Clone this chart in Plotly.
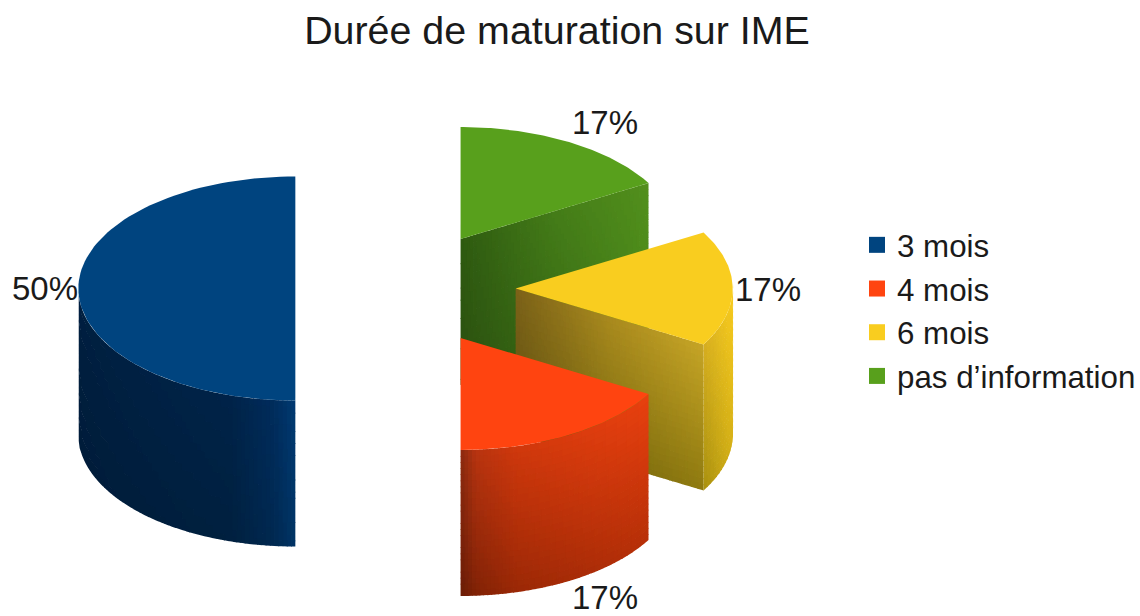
import math
import plotly.graph_objects as go

# ---------- data ----------
TITLE = "Durée de maturation sur IME"
categories = ["3 mois", "4 mois", "6 mois", "pas d’information"]
values = [3, 1, 1, 1]

# ---------- styles / layout constants ----------
W, H = 1140, 616
CX, CY = 405.5, 288.5
RX, RY = 217, 112
DEPTH = 146
EXPLODE = 0.51
top_colors = ["#00447f", "#ff4410", "#f9cd1f", "#58a01c"]
draw_order = [0, 3, 2, 1]
label_pos = [(45, 288), (605, 597), (768, 289), (605, 122)]

# gradient definitions: list of (fraction across face, top colour, bottom colour)
cut_shade = {
    2: [(0, "#7c6218", "#5f5010"), (0.5, "#a98a1e", "#7a6a0e"), (1, "#c6a526", "#8f7a10")],
    3: [(0, "#2e5a10", "#2b5010"), (0.5, "#447c18", "#386a14"), (1, "#528f1c", "#4a8a1a")],
}
wall_shade = {
    0: [(0, "#001f40", "#001c3a"), (0.7, "#002348", "#00203f"), (0.9, "#002c5c", "#002850"), (1, "#003a72", "#003465")],
    1: [(0, "#8a2a10", "#6a1c06"), (0.08, "#b83410", "#802206"), (0.3, "#d0380c", "#9a2806"), (1, "#e8400f", "#b83008")],
    2: [(0, "#d4ad20", "#a8900f"), (1, "#f7cb1e", "#d8b218")],
}
OVERLAP = 0.8
QUANT = 2


def hex2rgb(c):
    return [int(c[i:i + 2], 16) for i in (1, 3, 5)]


def mix(a, b, t):
    return [a[i] + (b[i] - a[i]) * t for i in range(3)]


def shade(stops, fx, fy):
    for (t0, a0, b0), (t1, a1, b1) in zip(stops, stops[1:]):
        if fx <= t1:
            break
    f = 0 if t1 == t0 else min(max((fx - t0) / (t1 - t0), 0), 1)
    top = mix(hex2rgb(a0), hex2rgb(a1), f)
    bot = mix(hex2rgb(b0), hex2rgb(b1), f)
    r, g, b = (round(c / QUANT) * QUANT for c in mix(top, bot, fy))
    return f"rgb({r},{g},{b})"


def poly(fig, xs, ys, color):
    fig.add_trace(go.Scatter(x=xs, y=ys, mode="lines", fill="toself", fillcolor=color,
                             line=dict(width=0), showlegend=False, hoverinfo="skip"))


def closed(pts):
    return [p[0] for p in pts] + [pts[0][0]], [p[1] for p in pts] + [pts[0][1]]


def extrude(fig, edge, stops, rows=24):
    """Draw a vertical face below an edge, shaded across x and depth; cells of one colour share a trace."""
    xs = [p[0] for p in edge]
    x0, x1 = min(xs), max(xs)
    segs = list(zip(edge, edge[1:]))
    groups = {}
    for j in range(rows):
        d0, d1 = DEPTH * j / rows, DEPTH * (j + 1) / rows
        ov = OVERLAP if j < rows - 1 else 0
        for k, ((ax, ay), (bx, by)) in enumerate(segs):
            fx = ((ax + bx) / 2 - x0) / (x1 - x0)
            xo = OVERLAP if k < len(segs) - 1 else 0
            slope = (by - ay) / (bx - ax)
            cx, cy = closed([(ax, ay + d0), (bx + xo, by + xo * slope + d0),
                             (bx + xo, by + xo * slope + d1 + ov), (ax, ay + d1 + ov)])
            g = groups.setdefault(shade(stops, fx, (j + 0.5) / rows), ([], []))
            g[0].extend(cx + [None])
            g[1].extend(cy + [None])
    for color, (gx, gy) in groups.items():
        poly(fig, gx, gy, color)


total = sum(values)
slices = []
cum = 0
for v in values:
    # slices run anticlockwise from the top; th is measured clockwise from the top
    th1 = 360 - cum / total * 360
    th0 = 360 - (cum + v) / total * 360
    cum += v
    mid = math.radians((th0 + th1) / 2)
    slices.append(dict(th0=th0, th1=th1,
                       ax=CX + EXPLODE * 216 * math.sin(mid),
                       ay=CY - EXPLODE * RY * math.cos(mid)))


def rim(s, deg):
    r = math.radians(deg)
    return s["ax"] + RX * math.sin(r), s["ay"] - RY * math.cos(r)


fig = go.Figure()
for i in draw_order:
    s = slices[i]
    # cut face on the clockwise side
    if i in cut_shade:
        end = rim(s, s["th1"])
        n = 60
        edge = [(s["ax"] + (end[0] - s["ax"]) * k / n, s["ay"] + (end[1] - s["ay"]) * k / n)
                for k in range(n + 1)]
        extrude(fig, edge, cut_shade[i])
    # outer wall: the front-facing part of the arc
    a0, a1 = max(s["th0"], 90), min(s["th1"], 270)
    if i in wall_shade and a1 > a0:
        n = {0: 80, 1: 60, 2: 16}[i]
        edge = [rim(s, a0 + (a1 - a0) * k / n) for k in range(n + 1)]
        edge.sort(key=lambda p: p[0])
        extrude(fig, edge, wall_shade[i])
    # top face
    n = 90
    arc = [rim(s, s["th0"] + (s["th1"] - s["th0"]) * k / n) for k in range(n + 1)]
    tx, ty = closed([(s["ax"], s["ay"])] + arc)
    poly(fig, tx, ty, top_colors[i])

# legend entries
for name, col in zip(categories, top_colors):
    fig.add_trace(go.Scatter(x=[None], y=[None], mode="markers", name=name, legendgroup=name,
                             marker=dict(symbol="square", size=19, color=col), hoverinfo="skip"))

# percentage labels
for v, (lx, ly) in zip(values, label_pos):
    fig.add_annotation(x=lx, y=ly, text=f"{round(v / total * 100)}%", showarrow=False,
                       font=dict(size=33, color="#1a1a1a"))

fig.update_layout(
    width=W, height=H,
    margin=dict(l=0, r=0, t=0, b=0, autoexpand=False),
    paper_bgcolor="white", plot_bgcolor="white",
    font=dict(family="Liberation Sans", color="#1a1a1a"),
    title=dict(text=TITLE, x=557 / W, xanchor="center", y=1 - 30 / H, yanchor="middle",
               font=dict(size=39.4, family="Liberation Sans", color="#1a1a1a")),
    xaxis=dict(range=[0, W], visible=False, fixedrange=True),
    yaxis=dict(range=[H, 0], visible=False, fixedrange=True),
    legend=dict(x=857 / W, xanchor="left", y=1 - 218 / H, yanchor="top",
                font=dict(size=31.3, family="Liberation Sans", color="#1a1a1a"),
                bgcolor="rgba(0,0,0,0)", borderwidth=0, tracegroupgap=0, itemclick=False,
                itemdoubleclick=False),
    showlegend=True,
    hovermode=False,
)
fig.write_html("out.html", config=dict(displayModeBar=False, responsive=False),
               post_script="document.body.style.margin='0';document.documentElement.style.overflow='hidden';")
